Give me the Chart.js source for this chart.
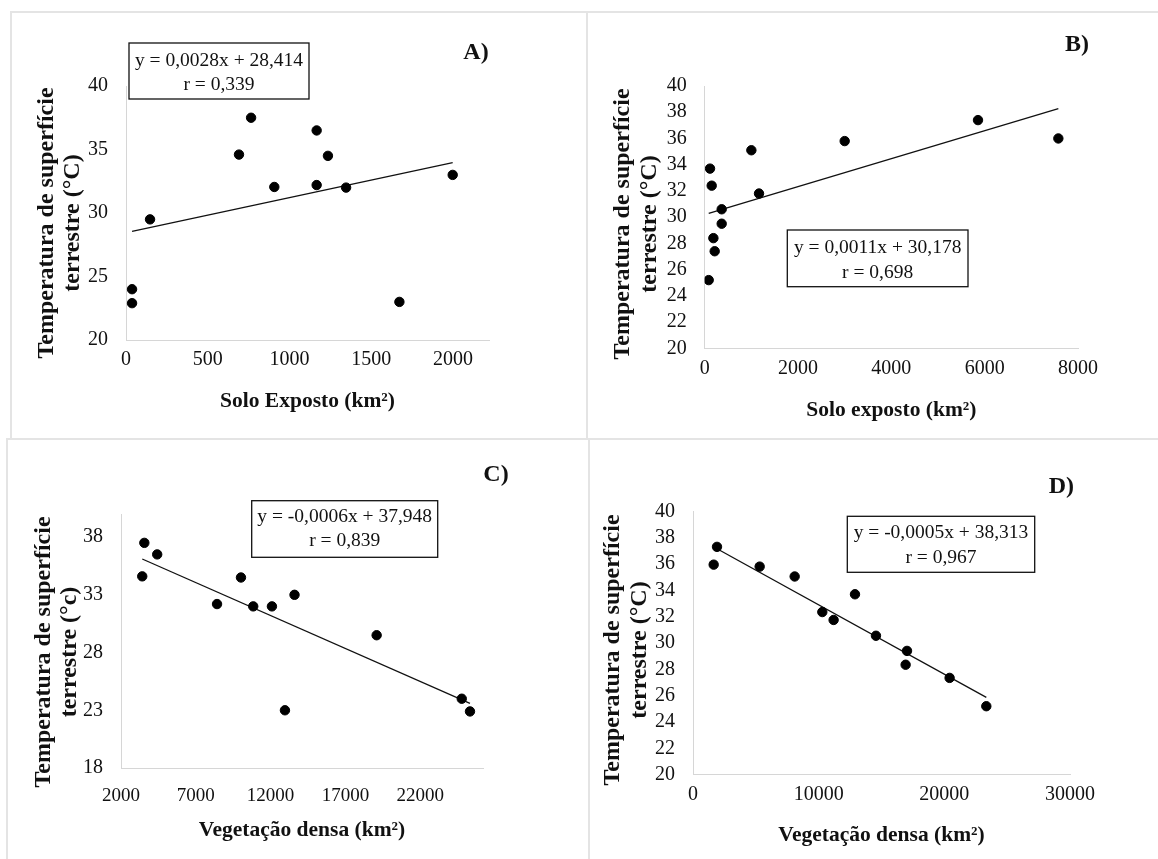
<!DOCTYPE html>
<html>
<head>
<meta charset="utf-8">
<script src="https://cdn.jsdelivr.net/npm/chart.js@4.4.1/dist/chart.umd.min.js"></script>
<style>
  html, body { margin: 0; padding: 0; background: #fff; }
  #page { position: relative; width: 1158px; height: 859px; overflow: hidden; }
  .rule { position: absolute; background: #e4e4e4; }
  .panel { position: absolute; }
  .panel canvas { display: block; }
</style>
</head>
<body>
<div id="page">
  <div class="panel" style="left:0;top:0"><canvas id="chartA" width="587" height="439"></canvas></div>
  <div class="panel" style="left:587px;top:0"><canvas id="chartB" width="571" height="439"></canvas></div>
  <div class="panel" style="left:0;top:439px"><canvas id="chartC" width="587" height="420"></canvas></div>
  <div class="panel" style="left:587px;top:439px"><canvas id="chartD" width="571" height="420"></canvas></div>

  <div class="rule" style="left:10px;top:11px;width:1148px;height:2px"></div>
  <div class="rule" style="left:10px;top:11px;width:2px;height:428px"></div>
  <div class="rule" style="left:586px;top:11px;width:2px;height:428px"></div>
  <div class="rule" style="left:6px;top:438px;width:1152px;height:2px"></div>
  <div class="rule" style="left:6px;top:438px;width:2px;height:421px"></div>
  <div class="rule" style="left:588px;top:438px;width:2px;height:421px"></div>
</div>

<script>
// A) solo exposto x temperatura
const soloA = [37, 37, 147, 691, 765, 907, 1166, 1166, 1235, 1346, 1672, 1998];
const tempA = [24.0, 22.9, 29.5, 34.6, 37.5, 32.05, 36.5, 32.2, 34.5, 32.0, 23.0, 33.0];
const trendAX = [37, 1998];
const trendAY = [28.56, 33.96];
const ticksAX = [0, 500, 1000, 1500, 2000];
const ticksAY = [20, 25, 30, 35, 40];

// B) solo exposto x temperatura
const soloB = [86, 114, 150, 186, 214, 364, 364, 1000, 1164, 3000, 5857, 7579];
const tempB = [25.2, 33.7, 32.4, 28.4, 27.4, 30.6, 29.5, 35.1, 31.8, 35.8, 37.4, 36.0];
const trendBX = [86, 7579];
const trendBY = [30.29, 38.27];
const ticksBX = [0, 2000, 4000, 6000, 8000];
const ticksBY = [20, 22, 24, 26, 28, 30, 32, 34, 36, 38, 40];

// C) vegetação densa x temperatura
const vegC = [3420, 3560, 4420, 8420, 10020, 10840, 12090, 12960, 13600, 19090, 24780, 25330];
const tempC = [34.6, 37.5, 36.5, 32.2, 34.5, 32.0, 32.0, 23.0, 33.0, 29.5, 24.0, 22.9];
const trendCX = [3420, 25330];
const trendCY = [36.1, 23.6];
const ticksCX = [2000, 7000, 12000, 17000, 22000];
const ticksCY = [18, 23, 28, 33, 38];

// D) vegetação densa x temperatura
const vegD = [1645, 1910, 5305, 8090, 10290, 11190, 12890, 14560, 16920, 17030, 20420, 23340];
const tempD = [35.95, 37.3, 35.8, 35.05, 32.35, 31.75, 33.7, 30.55, 28.35, 29.4, 27.35, 25.2];
const trendDX = [1910, 23340];
const trendDY = [37.16, 25.87];
const ticksDX = [0, 10000, 20000, 30000];
const ticksDY = [20, 22, 24, 26, 28, 30, 32, 34, 36, 38, 40];

const FONT = '"Liberation Serif", "Times New Roman", serif';

// equation box, panel letter and the (off-centre) y axis title
const panelNotes = {
    id: 'panelNotes',
    afterDraw(chart, args, opts) {
        if (!opts || !opts.box) return;
        const ctx = chart.ctx;
        const b = opts.box;
        ctx.save();
        ctx.fillStyle = '#fff';
        ctx.fillRect(b.left, b.top, b.width, b.height);
        ctx.strokeStyle = '#111';
        ctx.lineWidth = 1.3;
        ctx.strokeRect(b.left, b.top, b.width, b.height);
        ctx.fillStyle = '#111';
        ctx.font = '19.5px ' + FONT;
        ctx.textAlign = 'center';
        ctx.textBaseline = 'middle';
        opts.lines.forEach((t, i) => ctx.fillText(t, b.left + b.width / 2, opts.lineY[i]));
        ctx.font = 'bold 24px ' + FONT;
        ctx.fillText(opts.letter, opts.letterX, opts.letterY);

        const yt = opts.yTitle;
        ctx.font = 'bold 24px ' + FONT;
        yt.lines.forEach((t, i) => {
            ctx.save();
            ctx.translate(yt.x[i], yt.y);
            ctx.rotate(-Math.PI / 2);
            ctx.fillText(t, 0, 0);
            ctx.restore();
        });
        ctx.restore();
    }
};
Chart.register(panelNotes);

function toPoints(xs, ys) {
    return xs.map((x, i) => ({ x: x, y: ys[i] }));
}

function scatterPanel(id, p) {
    return new Chart(document.getElementById(id), {
        type: 'scatter',
        data: {
            datasets: [
                {
                    data: toPoints(p.xs, p.ys),
                    backgroundColor: '#000',
                    borderColor: '#000',
                    pointRadius: 4.7,
                    pointHoverRadius: 4.7
                },
                {
                    type: 'line',
                    data: toPoints(p.trendX, p.trendY),
                    borderColor: '#111',
                    borderWidth: 1.3,
                    pointRadius: 0,
                    fill: false
                }
            ]
        },
        options: {
            responsive: false,
            animation: false,
            events: [],
            layout: { padding: p.pad },
            plugins: {
                legend: { display: false },
                tooltip: { enabled: false },
                panelNotes: p.notes
            },
            scales: {
                x: {
                    type: 'linear',
                    min: p.xMin,
                    max: p.xMax,
                    afterBuildTicks: s => { s.ticks = p.xTicks.map(v => ({ value: v })); },
                    afterFit: s => { s.height = p.xH; },
                    grid: { display: false, drawTicks: false },
                    border: { display: true, color: '#d6d6d6', width: 1 },
                    ticks: {
                        color: '#111',
                        font: { family: FONT, size: p.xTickSize || 20 },
                        padding: p.xTickPad,
                        autoSkip: false,
                        maxRotation: 0,
                        callback: v => String(v)
                    },
                    title: {
                        display: true,
                        text: p.xTitle,
                        color: '#111',
                        font: { family: FONT, size: 21.5, weight: 'bold' },
                        padding: { top: 0, bottom: p.xTitlePad }
                    }
                },
                y: {
                    type: 'linear',
                    min: p.yMin,
                    max: p.yMax,
                    afterBuildTicks: s => { s.ticks = p.yTicks.map(v => ({ value: v })); },
                    afterFit: s => { s.width = p.yW; },
                    grid: { display: false, drawTicks: false },
                    border: { display: true, color: '#d6d6d6', width: 1 },
                    ticks: {
                        color: '#111',
                        font: { family: FONT, size: 20 },
                        padding: 18,
                        autoSkip: false,
                        callback: v => String(v)
                    },
                    title: { display: false }
                }
            }
        }
    });
}

scatterPanel('chartA', {
    xs: soloA, ys: tempA, trendX: trendAX, trendY: trendAY,
    xMin: 0, xMax: 2220, yMin: 20, yMax: 40, xTicks: ticksAX, yTicks: ticksAY,
    pad: { left: 0, top: 86, right: 98, bottom: 0 }, yW: 126, xH: 99,
    xTickPad: 8, xTitlePad: 24.4,
    xTitle: 'Solo Exposto (km²)',
    notes: {
        box: { left: 129, top: 43, width: 180, height: 56 },
        lines: ['y = 0,0028x + 28,414', 'r = 0,339'], lineY: [60.7, 85],
        letter: 'A)', letterX: 476, letterY: 53,
        yTitle: { lines: ['Temperatura de superfície', 'terrestre (°C)'], x: [46.7, 72.7], y: 223 }
    }
});

scatterPanel('chartB', {
    xs: soloB, ys: tempB, trendX: trendBX, trendY: trendBY,
    xMin: 0, xMax: 8000, yMin: 20, yMax: 40, xTicks: ticksBX, yTicks: ticksBY,
    pad: { left: 0, top: 86, right: 80, bottom: 0 }, yW: 117.7, xH: 90.7,
    xTickPad: 8, xTitlePad: 15.7,
    xTitle: 'Solo exposto (km²)',
    notes: {
        box: { left: 200.3, top: 230, width: 180.7, height: 56.7 },
        lines: ['y = 0,0011x + 30,178', 'r = 0,698'], lineY: [248.3, 272.7],
        letter: 'B)', letterX: 490, letterY: 45,
        yTitle: { lines: ['Temperatura de superfície', 'terrestre (°C)'], x: [36, 62.7], y: 224 }
    }
});

scatterPanel('chartC', {
    xs: vegC, ys: tempC, trendX: trendCX, trendY: trendCY,
    xMin: 2000, xMax: 26200, yMin: 18, yMax: 40, xTicks: ticksCX, yTicks: ticksCY,
    pad: { left: 0, top: 75, right: 104, bottom: 0 }, yW: 121, xH: 91,
    xTickSize: 19, xTickPad: 16.6, xTitlePad: 15.7,
    xTitle: 'Vegetação densa (km²)',
    notes: {
        box: { left: 251.7, top: 61.7, width: 186, height: 56.6 },
        lines: ['y = -0,0006x + 37,948', 'r = 0,839'], lineY: [78.3, 102.3],
        letter: 'C)', letterX: 496, letterY: 35.7,
        yTitle: { lines: ['Temperatura de superfície', 'terrestre (°c)'], x: [43.3, 69.3], y: 213 }
    }
});

scatterPanel('chartD', {
    xs: vegD, ys: tempD, trendX: trendDX, trendY: trendDY,
    xMin: 0, xMax: 30000, yMin: 20, yMax: 40, xTicks: ticksDX, yTicks: ticksDY,
    pad: { left: 0, top: 72.3, right: 88, bottom: 0 }, yW: 106, xH: 84.3,
    xTickPad: 8, xTitlePad: 11.1,
    xTitle: 'Vegetação densa (km²)',
    notes: {
        box: { left: 260.3, top: 77.3, width: 187.4, height: 56 },
        lines: ['y = -0,0005x + 38,313', 'r = 0,967'], lineY: [94.3, 119],
        letter: 'D)', letterX: 474.3, letterY: 47.3,
        yTitle: { lines: ['Temperatura de superfície', 'terrestre (°C)'], x: [26, 52.7], y: 211 }
    }
});
</script>
</body>
</html>
